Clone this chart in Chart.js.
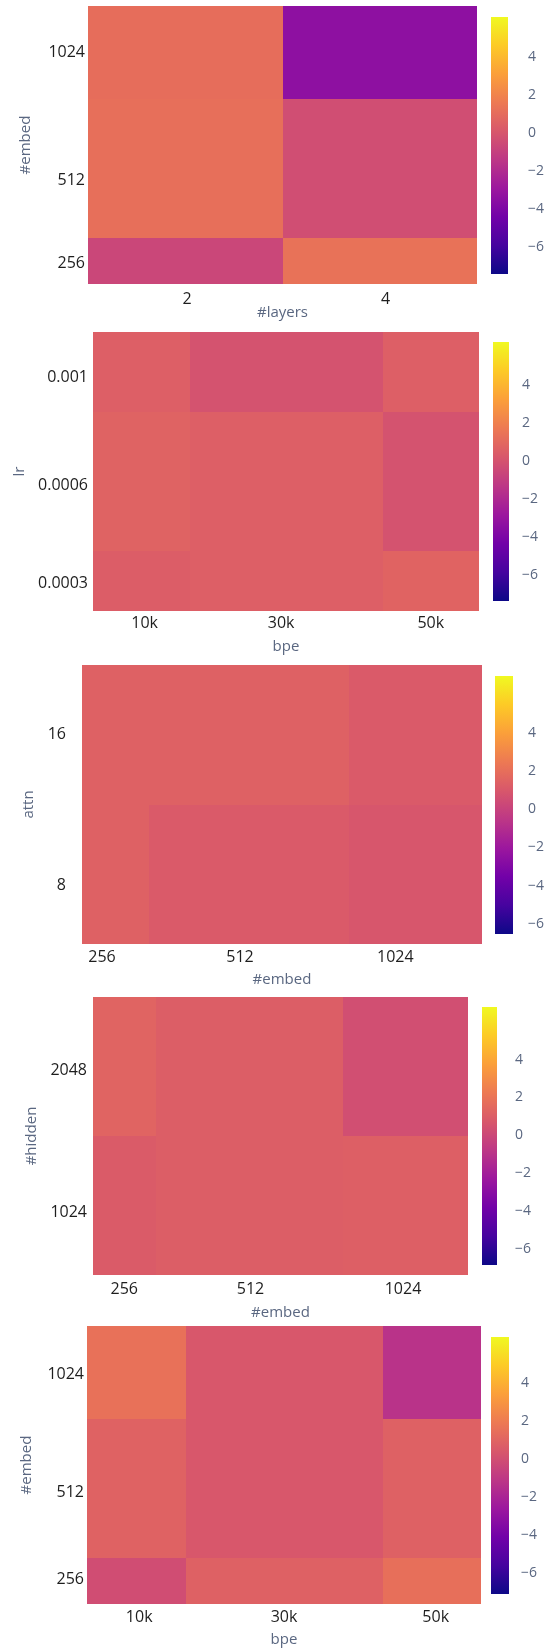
<!DOCTYPE html>
<html>
<head>
<meta charset="utf-8">
<script src="https://cdn.jsdelivr.net/npm/chart.js@4.4.1/dist/chart.umd.min.js"></script>
<style>
  html, body { margin: 0; padding: 0; background: #fff; }
  #page { position: relative; width: 555px; height: 1648px; overflow: hidden; }
  #page canvas { position: absolute; }
</style>
</head>
<body>
<div id="page"></div>
<script>
// plotly "Plasma" colour scale, evenly spaced stops
const plasmaStops = ['#0d0887', '#46039f', '#7201a8', '#9c179e', '#bd3786', '#d8576b', '#ed7953', '#fb9f3a', '#fdca26', '#f0f921'];
const cbTicks = [-6, -4, -2, 0, 2, 4];

// panel 1: #layers x #embed  (rows bottom -> top)
const p1XLabels = ['2', '4'];
const p1YLabels = ['256', '512', '1024'];
const p1XTickAt = [0.51, 1.53];
const p1YTickAt = [0.45, 2.24, 5.0];
const p1XEdges = [0, 1, 2];
const p1YEdges = [0, 1, 4, 6];
const p1Z = [[-0.67, 1.26], [1.13, -0.35], [1.07, -3.42]];
const p1Range = [-7.43, 6.1];

// panel 2: bpe x lr
const p2XLabels = ['10k', '30k', '50k'];
const p2YLabels = ['0.0003', '0.0006', '0.001'];
const p2XTickAt = [0.535, 1.95, 3.5];
const p2YTickAt = [1.38, 6.28, 11.73];
const p2XEdges = [0, 1, 3, 4];
const p2YEdges = [0, 3, 10, 14];
const p2Z = [[0.46, 0.54, 0.75], [0.74, 0.54, 0.0], [0.54, 0.0, 0.54]];
const p2Range = [-7.35, 6.25];

// panel 3: #embed x attn
const p3XLabels = ['256', '512', '1024'];
const p3YLabels = ['8', '16'];
const p3XTickAt = [0.3, 2.37, 4.7];
const p3YTickAt = [0.42, 1.5];
const p3XEdges = [0, 1, 4, 6];
const p3YEdges = [0, 1, 2];
const p3Z = [[1.42, 1.13, 0.92], [1.42, 1.42, 1.13]];
const p3Range = [-6.54, 6.99];

// panel 4: #embed x #hidden
const p4XLabels = ['256', '512', '1024'];
const p4YLabels = ['1024', '2048'];
const p4XTickAt = [0.5, 2.52, 4.96];
const p4YTickAt = [0.45, 1.47];
const p4XEdges = [0, 1, 4, 6];
const p4YEdges = [0, 1, 2];
const p4Z = [[0.88, 1.02, 1.08], [1.3, 1.02, 0.32]];
const p4Range = [-6.85, 6.78];

// panel 5: bpe x #embed
const p5XLabels = ['10k', '30k', '50k'];
const p5YLabels = ['256', '512', '1024'];
const p5XTickAt = [0.53, 2.0, 3.54];
const p5YTickAt = [0.52, 2.4, 4.96];
const p5XEdges = [0, 1, 3, 4];
const p5YEdges = [0, 1, 4, 6];
const p5Z = [[-0.04, 0.85, 1.49], [0.92, 0.42, 0.85], [1.55, 0.42, -1.26]];
const p5Range = [-7.08, 6.41];

const tickColor = '#1e1e1e';
const titleColor = '#5a6781';
const fontFamily = '"Open Sans", "Noto Sans", sans-serif';

function hexRgb(h) {
  const n = parseInt(h.slice(1), 16);
  return [(n >> 16) & 255, (n >> 8) & 255, n & 255];
}

function plasma(t) {
  t = Math.min(1, Math.max(0, t));
  const n = plasmaStops.length - 1;
  const i = Math.min(n - 1, Math.floor(t * n));
  const f = t * n - i;
  const a = hexRgb(plasmaStops[i]), b = hexRgb(plasmaStops[i + 1]);
  const c = a.map((v, k) => Math.round(v + (b[k] - v) * f));
  return 'rgb(' + c.join(',') + ')';
}

function fmtTick(v) {
  return v < 0 ? '\u2212' + Math.abs(v) : String(v);
}

const page = document.getElementById('page');
function addCanvas(left, top, w, h) {
  const cv = document.createElement('canvas');
  cv.width = w;
  cv.height = h;
  cv.style.left = left + 'px';
  cv.style.top = top + 'px';
  cv.style.width = w + 'px';
  cv.style.height = h + 'px';
  page.appendChild(cv);
  return cv;
}

// draws the cells through the chart's x/y scales
function cellsPlugin(xEdges, yEdges, z, range) {
  return {
    id: 'cells',
    beforeDatasetsDraw(chart) {
      const { ctx, scales: { x, y } } = chart;
      ctx.save();
      z.forEach((row, r) => {
        row.forEach((v, c) => {
          const x0 = Math.round(x.getPixelForValue(xEdges[c]));
          const x1 = Math.round(x.getPixelForValue(xEdges[c + 1]));
          const y0 = Math.round(y.getPixelForValue(yEdges[r]));
          const y1 = Math.round(y.getPixelForValue(yEdges[r + 1]));
          ctx.fillStyle = plasma((v - range[0]) / (range[1] - range[0]));
          ctx.fillRect(x0, y1, x1 - x0, y0 - y1);
        });
      });
      ctx.restore();
    }
  };
}

function heatmap(g, xTitle, yTitle, xLabels, yLabels, xTickAt, yTickAt, xEdges, yEdges, z, range) {
  const [pl, pt, pr, pb] = g.plot;
  const h = (pb - pt) + 20 + g.xAxisH + 10;
  const cv = addCanvas(0, pt - 20, 555, h);
  new Chart(cv, {
    type: 'scatter',
    data: { datasets: [{ data: [] }] },
    options: {
      responsive: false,
      animation: false,
      layout: { padding: { left: 0, top: 20, right: 555 - pr, bottom: 10 } },
      plugins: { legend: { display: false }, tooltip: { enabled: false } },
      scales: {
        x: {
          type: 'linear',
          min: xEdges[0],
          max: xEdges[xEdges.length - 1],
          grid: { display: false, drawTicks: false },
          border: { display: false },
          afterBuildTicks: s => { s.ticks = xTickAt.map(v => ({ value: v })); },
          afterFit: s => { s.height = g.xAxisH; s.paddingLeft = 0; s.paddingRight = 0; },
          ticks: {
            padding: g.xTickPad, autoSkip: false, maxRotation: 0,
            color: tickColor, font: { family: fontFamily, size: 16 },
            callback: (v, i) => xLabels[i]
          },
          title: { display: true, text: xTitle, color: titleColor, padding: 0, font: { family: fontFamily, size: 15 } }
        },
        y: {
          type: 'linear',
          min: yEdges[0],
          max: yEdges[yEdges.length - 1],
          grid: { display: false, drawTicks: false },
          border: { display: false },
          afterBuildTicks: s => { s.ticks = yTickAt.map(v => ({ value: v })); },
          afterFit: s => { s.width = pl; s.paddingTop = 0; s.paddingBottom = 0; },
          ticks: {
            padding: g.yTickPad, autoSkip: false,
            color: tickColor, font: { family: fontFamily, size: 16 },
            callback: (v, i) => yLabels[i]
          },
          title: { display: true, text: yTitle, color: titleColor, padding: { top: g.yTitlePad, bottom: 0 }, font: { family: fontFamily, size: 15 } }
        }
      }
    },
    plugins: [cellsPlugin(xEdges, yEdges, z, range)]
  });
}

function colorbar(g, range) {
  const [l, t, r, b] = g.cb;
  const axisW = 40;
  const cv = addCanvas(l, t - 12, r - l + axisW, b - t + 24);
  new Chart(cv, {
    type: 'bar',
    data: {
      labels: [''],
      datasets: [{
        data: [range],
        barPercentage: 1,
        categoryPercentage: 1,
        borderWidth: 0,
        backgroundColor: c => {
          const chart = c.chart;
          const ys = chart.scales.y;
          if (!chart.chartArea || !ys) return plasmaStops[5];
          const gr = chart.ctx.createLinearGradient(0, ys.getPixelForValue(range[0]), 0, ys.getPixelForValue(range[1]));
          plasmaStops.forEach((s, i) => gr.addColorStop(i / (plasmaStops.length - 1), s));
          return gr;
        }
      }]
    },
    options: {
      responsive: false,
      animation: false,
      layout: { padding: { left: 0, top: 12, right: 0, bottom: 12 } },
      plugins: { legend: { display: false }, tooltip: { enabled: false } },
      scales: {
        x: { display: false },
        y: {
          position: 'right',
          min: range[0],
          max: range[1],
          grid: { display: false, drawTicks: false },
          border: { display: false },
          afterBuildTicks: s => { s.ticks = cbTicks.map(v => ({ value: v })); },
          afterFit: s => { s.width = axisW; s.paddingTop = 0; s.paddingBottom = 0; },
          ticks: {
            padding: g.cbGap, autoSkip: false,
            color: titleColor, font: { family: fontFamily, size: 14 },
            callback: v => fmtTick(v)
          }
        }
      }
    }
  });
}

// panel placement on the page
const g1 = { plot: [88, 6, 477, 284], xTickPad: 6, xAxisH: 38, yTitlePad: 17, yTickPad: 3, cb: [491, 17, 508, 274], cbGap: 20 };
const g2 = { plot: [93, 332, 479, 611], xTickPad: 3, xAxisH: 45, yTitlePad: 11, yTickPad: 5, cb: [493, 342, 509, 601], cbGap: 13 };
const g3 = { plot: [82, 665, 482, 944], xTickPad: 4, xAxisH: 45, yTitlePad: 20, yTickPad: 16, cb: [495, 676, 513, 934], cbGap: 15 };
const g4 = { plot: [93, 997, 468, 1275], xTickPad: 5, xAxisH: 47, yTitlePad: 23, yTickPad: 6, cb: [482, 1007, 497, 1265], cbGap: 18 };
const g5 = { plot: [87, 1326, 481, 1604], xTickPad: 4, xAxisH: 45, yTitlePad: 18, yTickPad: 3, cb: [491, 1337, 509, 1594], cbGap: 12 };

heatmap(g1, '#layers', '#embed', p1XLabels, p1YLabels, p1XTickAt, p1YTickAt, p1XEdges, p1YEdges, p1Z, p1Range);
colorbar(g1, p1Range);
heatmap(g2, 'bpe', 'lr', p2XLabels, p2YLabels, p2XTickAt, p2YTickAt, p2XEdges, p2YEdges, p2Z, p2Range);
colorbar(g2, p2Range);
heatmap(g3, '#embed', 'attn', p3XLabels, p3YLabels, p3XTickAt, p3YTickAt, p3XEdges, p3YEdges, p3Z, p3Range);
colorbar(g3, p3Range);
heatmap(g4, '#embed', '#hidden', p4XLabels, p4YLabels, p4XTickAt, p4YTickAt, p4XEdges, p4YEdges, p4Z, p4Range);
colorbar(g4, p4Range);
heatmap(g5, 'bpe', '#embed', p5XLabels, p5YLabels, p5XTickAt, p5YTickAt, p5XEdges, p5YEdges, p5Z, p5Range);
colorbar(g5, p5Range);
</script>
</body>
</html>
